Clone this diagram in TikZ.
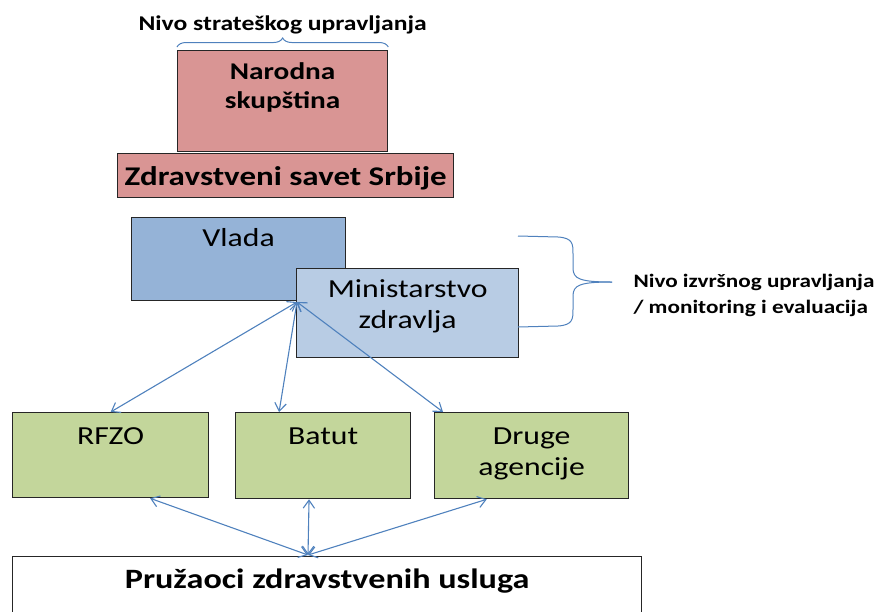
\documentclass[tikz,border=0pt]{standalone}
\usepackage{fontspec}
\setmainfont{Carlito}[FakeStretch=1.22]
\usepackage{xcolor}
\usetikzlibrary{
    positioning,
    arrows.meta,
    calc,
    decorations.pathreplacing,
}
\definecolor{pinkfill}{HTML}{D99594}
\definecolor{vladafill}{HTML}{95B3D7}
\definecolor{minfill}{HTML}{B8CCE4}
\definecolor{greenfill}{HTML}{C3D69B}
\definecolor{linkblue}{HTML}{4F81BD}
\definecolor{edge}{HTML}{262626}
\tikzset{
    % Box styles
    box/.style={rectangle, draw=edge, line width=1.3pt, anchor=north west, inner sep=0pt},
    strat box/.style={box, fill=pinkfill},
    gov box/.style={box, fill=vladafill},
    min box/.style={box, fill=minfill},
    agency box/.style={box, fill=greenfill},
    provider box/.style={box, fill=white},
    % Text inside boxes (top aligned)
    box text/.style={anchor=north, align=center, font=\fontsize{26}{31}\selectfont, yshift=-8pt},
    bold text/.style={box text, font=\fontsize{24}{29}\selectfont\bfseries},
    % Arrow and brace styles
    link/.style={{Straight Barb[length=2.8mm, width=4mm]}-{Straight Barb[length=2.8mm, width=4mm]}, linkblue, line width=1.1pt},
    brace line/.style={linkblue, line width=1pt},
    annot/.style={font=\fontsize{19}{26}\selectfont\bfseries, align=left, text=black},
}
\begin{document}
\begin{tikzpicture}[x=1pt, y=-1pt]
    \useasboundingbox (0,0) rectangle (876,611);
    \clip (0,0) rectangle (876,611);

    % Strategic level
    \node[strat box, minimum width=210pt, minimum height=101pt] (skupstina) at (177,50) {};
    \node[bold text, yshift=-1pt] at (skupstina.north) {Narodna\\skupština};
    \node[strat box, minimum width=336pt, minimum height=44pt] (savet) at (117,153) {};
    \node[bold text, anchor=center, yshift=5pt, font=\fontsize{27}{32}\selectfont\bfseries] at (savet.center) {Zdravstveni savet Srbije};
    \draw[brace line, decorate, decoration={brace, amplitude=9pt}]
        ($(skupstina.north west)+(0,-3)$) -- ($(skupstina.north east)+(0,-3)$)
        node[midway, above=9pt, annot, anchor=south, font=\fontsize{21}{26}\selectfont\bfseries] (stratlabel) {Nivo strateškog upravljanja};

    % Executive level
    \node[gov box, minimum width=214pt, minimum height=83pt] (vlada) at (131,217) {};
    \node[box text] at (vlada.north) {Vlada};
    \node[min box, minimum width=222pt, minimum height=89pt] (ministarstvo) at (296,268) {};
    \node[box text] at (ministarstvo.north) {Ministarstvo\\zdravlja};

    % Right brace
    \coordinate (btop) at (518,236);
    \coordinate (bbot) at (518,327);
    \coordinate (btip) at (612,282);
    \draw[brace line] (btop) -- (558,237) .. controls (573,238) and (573,244) .. (573,254)
        -- (573,268) .. controls (573,279) and (580,282) .. (btip);
    \draw[brace line] (bbot) -- (558,326) .. controls (573,325) and (573,319) .. (573,309)
        -- (573,296) .. controls (573,285) and (580,282) .. (btip);
    \node[annot, anchor=west] (execlabel) at (630,295) {Nivo izvršnog upravljanja\\/ monitoring i evaluacija};

    % Agencies
    \node[agency box, minimum width=196pt, minimum height=85pt] (rfzo) at (12,412) {};
    \node[box text, yshift=-4pt] at (rfzo.north) {RFZO};
    \node[agency box, minimum width=175pt, minimum height=86pt] (batut) at (235,412) {};
    \node[box text, yshift=-4pt] at (batut.north) {Batut};
    \node[agency box, minimum width=194pt, minimum height=86pt] (druge) at (434,412) {};
    \node[box text, yshift=-4pt] at (druge.north) {Druge\\agencije};

    % Providers
    \node[provider box, minimum width=629pt, minimum height=80pt] (pruzaoci) at (12,556) {};
    \node[bold text, yshift=-1pt, font=\fontsize{28}{32}\selectfont\bfseries] at (pruzaoci.north) {Pružaoci zdravstvenih usluga};

    % Arrows
    \coordinate (mhub) at (297,302);
    \coordinate (phub) at (308,555);
    \draw[link] (mhub) -- (rfzo.north);
    \draw[link] (mhub) -- ($(batut.north west)!0.25!(batut.north east)$);
    \draw[link] (mhub) -- ($(druge.north west)+(9,0)$);
    \draw[link] ($(rfzo.south west)!0.7!(rfzo.south east)$) -- (phub);
    \draw[link] ($(batut.south west)!0.42!(batut.south east)$) -- (phub);
    \draw[link] ($(druge.south west)!0.27!(druge.south east)$) -- (phub);
\end{tikzpicture}
\end{document}
